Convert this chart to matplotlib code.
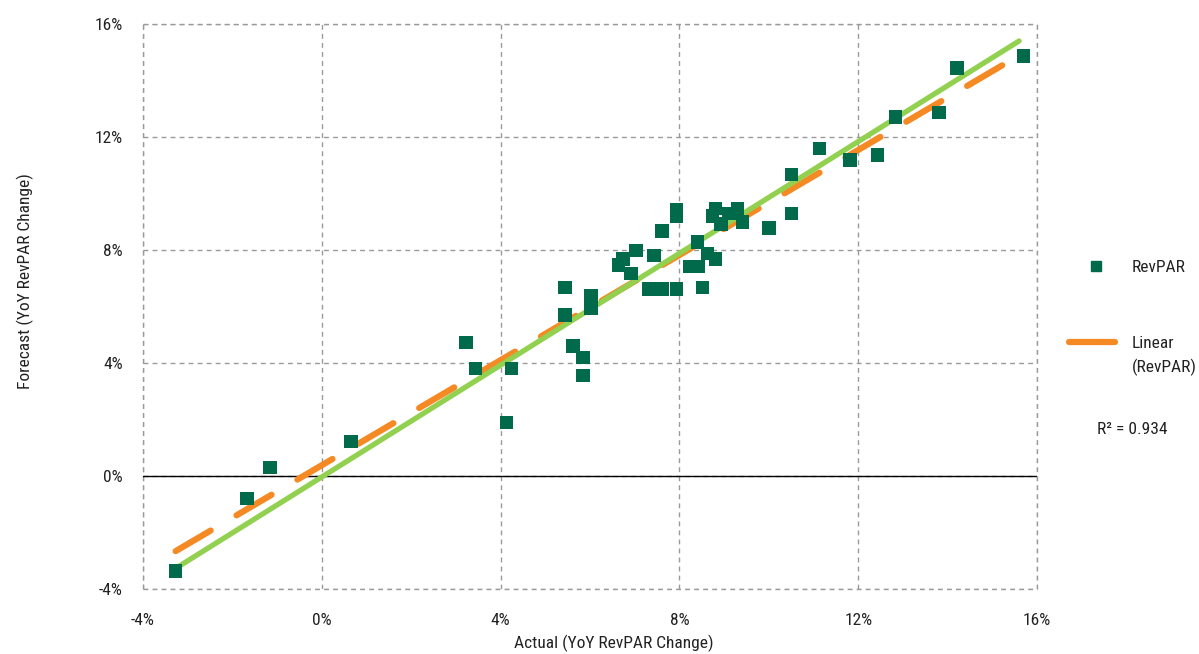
import numpy as np
import matplotlib
matplotlib.use("Agg")
import matplotlib.pyplot as plt
from matplotlib import font_manager
from matplotlib.ticker import FuncFormatter, MultipleLocator
from matplotlib.lines import Line2D

# pick a condensed font if available
_names = {f.name for f in font_manager.fontManager.ttflist}
FS = 11.5
if 'Liberation Sans Narrow' in _names:
    plt.rcParams['font.family'] = ['Liberation Sans Narrow', 'DejaVu Sans']
    FS = 12.5
elif 'Roboto Condensed' in _names:
    plt.rcParams['font.family'] = ['Roboto Condensed', 'DejaVu Sans']
    FS = 12.5
else:
    plt.rcParams['font.family'] = ['DejaVu Sans']
    plt.rcParams['font.stretch'] = 'condensed'
    FS = 11.2

# Data (percent)
actual = [-3.27, -1.67, -1.16, 0.65, 3.22, 3.44, 4.24, 4.13, 5.44, 5.44, 6.02, 6.02,
          5.62, 5.84, 5.84, 6.64, 6.74, 6.92, 7.03, 7.43, 7.32, 7.61, 7.61, 7.93,
          7.93, 7.93, 8.23, 8.42, 8.40, 8.52, 8.63, 8.81, 8.74, 8.81, 8.93, 9.11,
          9.30, 9.41, 10.01, 10.51, 10.51, 11.13, 11.82, 12.43, 12.83, 13.81, 14.21, 15.70]
forecast = [-3.37, -0.79, 0.30, 1.22, 4.72, 3.80, 3.80, 1.90, 6.67, 5.70, 6.37, 5.94,
            4.61, 4.19, 3.56, 7.47, 7.68, 7.17, 7.99, 7.81, 6.61, 6.61, 8.67, 6.61,
            9.42, 9.18, 7.41, 7.41, 8.29, 6.67, 7.88, 7.68, 9.20, 9.47, 8.92, 9.30,
            9.47, 9.00, 8.77, 9.30, 10.68, 11.59, 11.19, 11.36, 12.70, 12.86, 14.45, 14.87]
perfect_x = [-3.27, 15.6]
perfect_y = [-3.27, 15.4]
r2_text = "R\u00b2 = 0.934"

x = np.array(actual)
y = np.array(forecast)
slope, intercept = np.polyfit(x, y, 1)

fig = plt.figure(figsize=(11.99, 6.54), dpi=100)
ax = fig.add_axes([143/1199, 1-589/654, (1037-143)/1199, (589-24)/654])

GRID = dict(color='#9a9a9a', linestyle=(0, (3.5, 3)), linewidth=1.0)
ax.set_xlim(-4, 16)
ax.set_ylim(-4, 16)
ax.xaxis.set_major_locator(MultipleLocator(4))
ax.yaxis.set_major_locator(MultipleLocator(4))
ax.xaxis.set_major_formatter(FuncFormatter(lambda v, p: f"{v:.0f}%"))
ax.yaxis.set_major_formatter(FuncFormatter(lambda v, p: f"{v:.0f}%"))
for s in ax.spines.values():
    s.set_visible(False)
ax.grid(True, zorder=0, **GRID)
ax.set_axisbelow(True)
for v in (-4, 16):
    ax.axvline(v, zorder=0, clip_on=False, **GRID)
    ax.axhline(v, zorder=0, clip_on=False, **GRID)
ax.axhline(0, color='black', linewidth=1.0, zorder=1)
ax.tick_params(length=0, labelsize=FS, colors='#222222')
ax.tick_params(axis='x', pad=17)
ax.tick_params(axis='y', pad=14.5)

xs = np.array([x.min(), x.max() - 0.15])
ax.plot(xs, slope * xs + intercept, color='#F58A24', linewidth=4.5,
        linestyle=(0, (6.5, 4.8)), dash_capstyle='round', zorder=3)
ax.plot(perfect_x, perfect_y, color='#92D050', linewidth=3.8,
        solid_capstyle='round', zorder=4)
ax.scatter(x, y, marker='s', s=95, color='#006A4A', edgecolors='none', zorder=5)

xl = ax.set_xlabel("Actual (YoY RevPAR Change)", fontsize=FS, color='#222222')
yl = ax.set_ylabel("Forecast (YoY RevPAR Change)", fontsize=FS, color='#222222')
xl.set_va('center')
yl.set_va('center')
ax.xaxis.set_label_coords((614-143)/894, -(643-589)/565)
ax.yaxis.set_label_coords((25-143)/894, (589-281)/565)

# legend drawn manually in figure coords
def fy(py):
    return 1 - py/654

fig.add_artist(Line2D([1096/1199], [fy(266)], marker='s', markersize=7.5,
                      color='#006A4A', linestyle='none', transform=fig.transFigure))
fig.text(1132/1199, fy(267), "RevPAR", fontsize=FS, va='center', ha='left', color='#222222')
fig.add_artist(Line2D([1069/1199, 1115/1199], [fy(342), fy(342)], color='#F58A24',
                      linewidth=4.5, solid_capstyle='round', transform=fig.transFigure))
fig.text(1132/1199, fy(343), "Linear", fontsize=FS, va='center', ha='left', color='#222222')
fig.text(1132/1199, fy(367), "(RevPAR)", fontsize=FS, va='center', ha='left', color='#222222')
fig.text(1097/1199, fy(429), r2_text, fontsize=FS, va='center', ha='left', color='#222222')

fig.savefig("out.png", dpi=100)
